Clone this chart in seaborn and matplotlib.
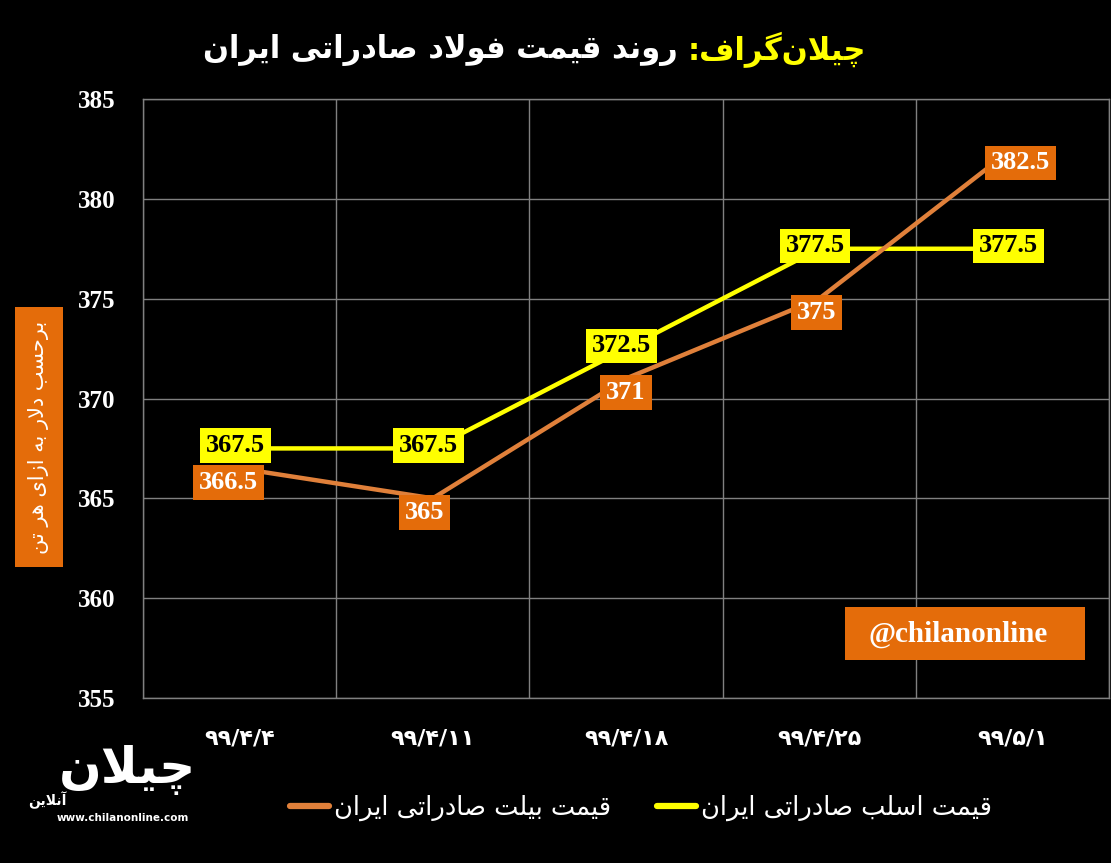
import matplotlib
matplotlib.use("Agg")
import matplotlib.pyplot as plt
from matplotlib.patches import Rectangle
from matplotlib.lines import Line2D
import pandas as pd
import seaborn as sns

# data
dates = ["۹۹/۴/۴", "۹۹/۴/۱۱", "۹۹/۴/۱۸", "۹۹/۴/۲۵", "۹۹/۵/۱"]
slab = [367.5, 367.5, 372.5, 377.5, 377.5]
billet = [366.5, 365, 371, 375, 382.5]
slab_name = "قیمت اسلب صادراتی ایران"
billet_name = "قیمت بیلت صادراتی ایران"
title_head = "چیلان‌گراف:"
title_rest = "روند قیمت فولاد صادراتی ایران"
ylabel = "برحسب دلار به ازای هر تن"
yticks = [355, 360, 365, 370, 375, 380, 385]

YELLOW = "#FFFF00"
ORANGE_LINE = "#E0803A"
ORANGE_BOX = "#E46C0A"
GRID = "#808080"

# minimal arabic/persian shaping (matplotlib draws glyphs unjoined, left to right)
FORMS = {
    "ا": (0xFE8D, 0xFE8E), "آ": (0xFE81, 0xFE82), "د": (0xFEA9, 0xFEAA),
    "ذ": (0xFEAB, 0xFEAC), "ر": (0xFEAD, 0xFEAE), "ز": (0xFEAF, 0xFEB0),
    "ژ": (0xFB8A, 0xFB8B), "و": (0xFEED, 0xFEEE),
    "ب": (0xFE8F, 0xFE90, 0xFE91, 0xFE92), "پ": (0xFB56, 0xFB57, 0xFB58, 0xFB59),
    "ت": (0xFE95, 0xFE96, 0xFE97, 0xFE98), "ث": (0xFE99, 0xFE9A, 0xFE9B, 0xFE9C),
    "ج": (0xFE9D, 0xFE9E, 0xFE9F, 0xFEA0), "چ": (0xFB7A, 0xFB7B, 0xFB7C, 0xFB7D),
    "ح": (0xFEA1, 0xFEA2, 0xFEA3, 0xFEA4), "خ": (0xFEA5, 0xFEA6, 0xFEA7, 0xFEA8),
    "س": (0xFEB1, 0xFEB2, 0xFEB3, 0xFEB4), "ش": (0xFEB5, 0xFEB6, 0xFEB7, 0xFEB8),
    "ص": (0xFEB9, 0xFEBA, 0xFEBB, 0xFEBC), "ض": (0xFEBD, 0xFEBE, 0xFEBF, 0xFEC0),
    "ط": (0xFEC1, 0xFEC2, 0xFEC3, 0xFEC4), "ظ": (0xFEC5, 0xFEC6, 0xFEC7, 0xFEC8),
    "ع": (0xFEC9, 0xFECA, 0xFECB, 0xFECC), "غ": (0xFECD, 0xFECE, 0xFECF, 0xFED0),
    "ف": (0xFED1, 0xFED2, 0xFED3, 0xFED4), "ق": (0xFED5, 0xFED6, 0xFED7, 0xFED8),
    "ک": (0xFB8E, 0xFB8F, 0xFB90, 0xFB91), "گ": (0xFB92, 0xFB93, 0xFB94, 0xFB95),
    "ل": (0xFEDD, 0xFEDE, 0xFEDF, 0xFEE0), "م": (0xFEE1, 0xFEE2, 0xFEE3, 0xFEE4),
    "ن": (0xFEE5, 0xFEE6, 0xFEE7, 0xFEE8), "ه": (0xFEE9, 0xFEEA, 0xFEEB, 0xFEEC),
    "ی": (0xFBFC, 0xFBFD, 0xFBFE, 0xFBFF),
}


def shape(text):
    chars = list(text)
    out = []
    i = 0
    while i < len(chars):
        c = chars[i]
        prev = chars[i - 1] if i > 0 else ""
        joins_prev = prev in FORMS and len(FORMS[prev]) == 4 and c in FORMS
        if c == "ل" and i + 1 < len(chars) and chars[i + 1] == "ا":
            out.append(chr(0xFEFC if joins_prev else 0xFEFB))
            i += 2
            continue
        if c not in FORMS:
            if c != "\u200c":
                out.append(c)
            i += 1
            continue
        f = FORMS[c]
        nxt = chars[i + 1] if i + 1 < len(chars) else ""
        joins_next = len(f) == 4 and nxt in FORMS
        if joins_prev and joins_next:
            g = f[3]
        elif joins_prev:
            g = f[1]
        elif joins_next:
            g = f[2]
        else:
            g = f[0]
        out.append(chr(g))
        i += 1
    return "".join(out)[::-1]


sns.set_theme(style="dark")
plt.rcParams["font.family"] = ["DejaVu Sans"]

df = pd.DataFrame({
    "date": dates * 2,
    "price": slab + billet,
    "series": [slab_name] * len(dates) + [billet_name] * len(dates),
})

W, H = 1111, 863
fig = plt.figure(figsize=(W / 100, H / 100), dpi=100, facecolor="black")
ax = fig.add_axes([143 / W, 1 - 698 / H, (1109 - 143) / W, (698 - 99) / H])
ax.set_facecolor("black")

sns.lineplot(data=df, x="date", y="price", hue="series", sort=False,
             palette={slab_name: YELLOW, billet_name: ORANGE_LINE},
             linewidth=3.2, legend=False, ax=ax)

ax.set_xlim(-0.5, len(dates) - 0.5)
ax.set_ylim(355, 385)
ax.set_yticks(yticks)
ax.set_xticks(range(len(dates)))
ax.set_xticklabels(dates)
ax.set_xticks([x - 0.5 for x in range(len(dates) + 1)], minor=True)
ax.grid(False)
ax.grid(True, which="minor", axis="x", color=GRID, lw=1)
ax.grid(True, which="major", axis="y", color=GRID, lw=1)
ax.set_axisbelow(True)
for s in ax.spines.values():
    s.set_color(GRID)
    s.set_linewidth(1)
ax.tick_params(which="both", length=0)
ax.tick_params(axis="y", pad=20)
ax.tick_params(axis="x", pad=22)
for t in ax.get_yticklabels():
    t.set_fontfamily("Liberation Serif")
    t.set_fontweight("bold")
    t.set_fontsize(18)
    t.set_color("white")
for t in ax.get_xticklabels():
    t.set_fontweight("bold")
    t.set_fontsize(16)
    t.set_color("white")
ax.set_xlabel("")
ax.set_ylabel("")

# data labels
for i, v in enumerate(slab):
    ax.annotate(f"{v:g}", (i, v), xytext=(-3, 2), textcoords="offset points",
                ha="center", va="center", fontsize=19, fontweight="bold",
                fontfamily="Liberation Serif", color="black", zorder=5,
                bbox=dict(boxstyle="square,pad=0.22", fc=YELLOW, ec="none"))
for i, v in enumerate(billet):
    dx = [-8, -6, 0, -2, 6][i]
    ax.annotate(f"{v:g}", (i, v), xytext=(dx, -10), textcoords="offset points",
                ha="center", va="center", fontsize=19, fontweight="bold",
                fontfamily="Liberation Serif", color="white", zorder=5,
                bbox=dict(boxstyle="square,pad=0.22", fc=ORANGE_BOX, ec="none"))

# title in two colours, the white part placed left of the yellow part
head = fig.text(866 / W, 1 - 50 / H, shape(title_head), ha="right", va="center",
                fontsize=22, fontweight="bold", color=YELLOW)
renderer = fig.canvas.get_renderer()
hb = head.get_window_extent(renderer)
fig.text((hb.x0 - 10) / W, 1 - 50 / H, shape(title_rest), ha="right", va="center",
         fontsize=22, fontweight="bold", color="white")

# y label box
fig.patches.append(Rectangle((15 / W, 1 - 567 / H), 48 / W, 260 / H,
                             transform=fig.transFigure, fc=ORANGE_BOX, ec="none"))
fig.text(39 / W, 1 - 437 / H, shape(ylabel), rotation=90, ha="center", va="center",
         fontsize=15, color="white")

# watermark box
fig.patches.append(Rectangle((845 / W, 1 - 660 / H), 240 / W, 53 / H,
                             transform=fig.transFigure, fc=ORANGE_BOX, ec="none"))
fig.text(958 / W, 1 - 634 / H, "@chilanonline", ha="center", va="center",
         fontsize=21, fontweight="bold", fontfamily="Liberation Serif", color="white")

# legend (rtl order: billet on the left)
handles = [Line2D([], [], color=ORANGE_LINE, lw=4.5), Line2D([], [], color=YELLOW, lw=4.5)]
fig.legend(handles, [shape(billet_name), shape(slab_name)], ncol=2,
           loc="center", bbox_to_anchor=(641 / W, 1 - 808 / H),
           frameon=False, fontsize=18.5, handlelength=1.5, handletextpad=0.2,
           columnspacing=1.8, labelcolor="white")

# logo
fig.text(128 / W, 1 - 770 / H, shape("چیلان"), ha="center", va="center",
         fontsize=36, fontweight="bold", color="white")
fig.text(47 / W, 1 - 800 / H, shape("آنلاین"), ha="center", va="center",
         fontsize=10, fontweight="bold", color="white")
fig.text(123 / W, 1 - 818 / H, "www.chilanonline.com", ha="center", va="center",
         fontsize=7.5, fontweight="bold", color="white")

fig.savefig("out.png", dpi=100, facecolor="black")
